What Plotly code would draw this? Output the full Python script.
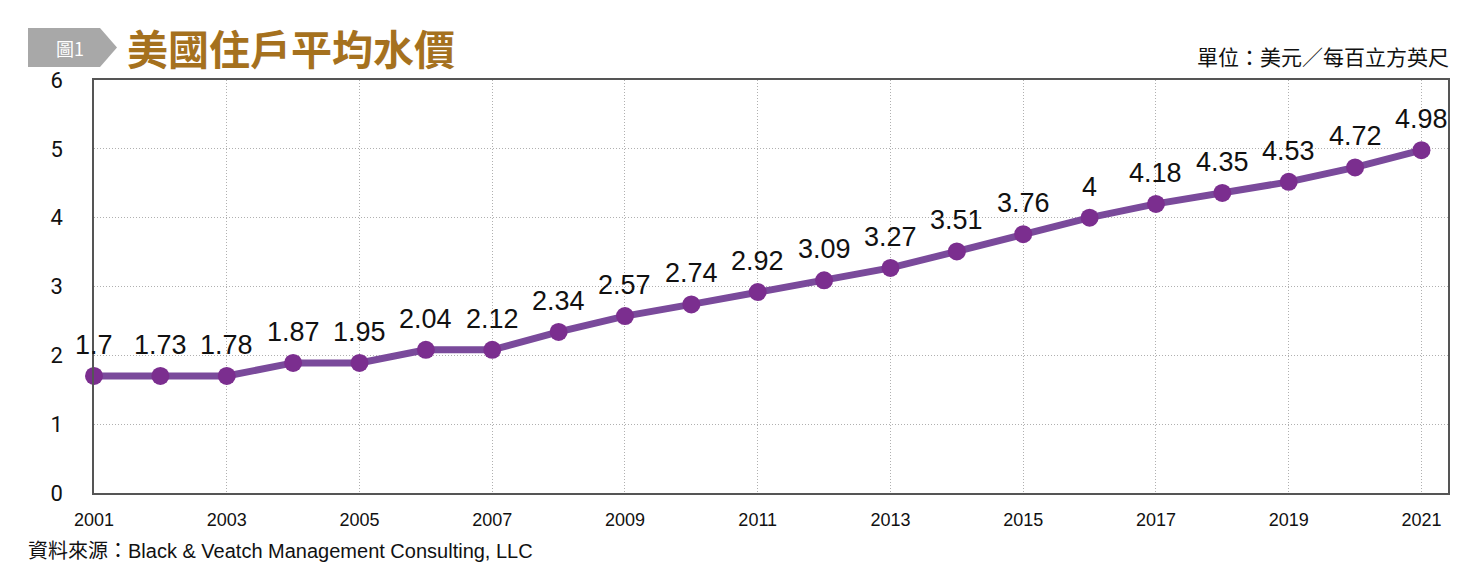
import plotly.graph_objects as go

# ---- data ----
years = list(range(2001, 2022))
plotted_values = [1.70, 1.70, 1.70, 1.89, 1.89, 2.08, 2.08, 2.34, 2.57, 2.74, 2.92,
                  3.09, 3.27, 3.51, 3.76, 4.00, 4.20, 4.36, 4.52, 4.73, 4.98]
value_labels = ["1.7", "1.73", "1.78", "1.87", "1.95", "2.04", "2.12", "2.34", "2.57", "2.74",
                "2.92", "3.09", "3.27", "3.51", "3.76", "4", "4.18", "4.35", "4.53", "4.72", "4.98"]
x_ticks = list(range(2001, 2022, 2))
y_ticks = [0, 1, 2, 3, 4, 5, 6]

title_text = "美國住戶平均水價"
fig_label = "圖1"
unit_text = "單位：美元／每百立方英尺"
source_text = "資料來源：Black & Veatch Management Consulting, LLC"

OFF = 8  # page body margin
W, H = 1478 - OFF, 571 - OFF
L, R, T, B = 94 - OFF, 30, 80 - OFF, 78
PW, PH = W - L - R, H - T - B


def px(x):
    return (x - OFF - L) / PW


def py(y):
    return (H - B - (y - OFF)) / PH


fig = go.Figure()
fig.add_trace(go.Scatter(
    x=years, y=plotted_values, mode="lines+markers",
    line=dict(color="#7A4A9B", width=7),
    marker=dict(color="#7B2E8F", size=18),
    cliponaxis=False, showlegend=False,
))

for xv, yv, lab in zip(years, plotted_values, value_labels):
    fig.add_annotation(x=xv, y=yv, text=lab, showarrow=False, yshift=31,
                       xanchor="center", yanchor="middle",
                       font=dict(family="Liberation Sans, Arial, sans-serif", size=27, color="#111111"))

fig.update_layout(
    width=W, height=H,
    margin=dict(l=L, r=R, t=T, b=B),
    plot_bgcolor="white", paper_bgcolor="white",
    xaxis=dict(
        range=[2001, 2021.4], tickvals=x_ticks, ticktext=[str(v) for v in x_ticks],
        showgrid=True, gridcolor="#b0b0b0", griddash="1px,2px", gridwidth=1,
        showline=True, linecolor="#555555", linewidth=1.5, mirror=True,
        ticks="", ticklabelstandoff=10, zeroline=False,
        tickfont=dict(family="Liberation Sans Narrow, Liberation Sans, Arial", size=18, color="#111111"),
    ),
    yaxis=dict(
        range=[0, 6], tickvals=y_ticks,
        showgrid=True, gridcolor="#b0b0b0", griddash="1px,2px", gridwidth=1,
        showline=True, linecolor="#555555", linewidth=1.5, mirror=True,
        ticks="", ticklabelstandoff=25, zeroline=False,
        tickfont=dict(family="Roboto, Liberation Sans, Arial", size=22, color="#111111"),
    ),
)

# banner arrow shape
bx0, bx1, btip, by0, by1 = 28, 100, 117, 28, 67
path = (f"M {px(bx0)},{py(by0)} L {px(bx1)},{py(by0)} L {px(btip)},{py((by0 + by1) / 2)} "
        f"L {px(bx1)},{py(by1)} L {px(bx0)},{py(by1)} Z")
fig.add_shape(type="path", path=path, xref="paper", yref="paper",
              fillcolor="#a8a8a8", line=dict(width=0), layer="above")

fig.add_annotation(x=px(70), y=py(48), xref="paper", yref="paper", text=fig_label,
                   showarrow=False, xanchor="center", yanchor="middle",
                   font=dict(family="Noto Sans CJK TC", size=18, color="white"))
fig.add_annotation(x=px(125), y=py(47), xref="paper", yref="paper", text=title_text,
                   showarrow=False, xanchor="left", yanchor="middle",
                   font=dict(family="Noto Sans CJK TC", size=41, color="#A5711E", weight="bold"))
fig.add_annotation(x=px(1451), y=py(56), xref="paper", yref="paper", text=unit_text,
                   showarrow=False, xanchor="right", yanchor="middle",
                   font=dict(family="Noto Sans CJK TC", size=21, color="#111111"))
fig.add_annotation(x=px(26), y=py(551), xref="paper", yref="paper", text=source_text,
                   showarrow=False, xanchor="left", yanchor="middle",
                   font=dict(family="Liberation Sans, Noto Sans CJK TC", size=20, color="#111111"))

fig.write_html("out.html")
